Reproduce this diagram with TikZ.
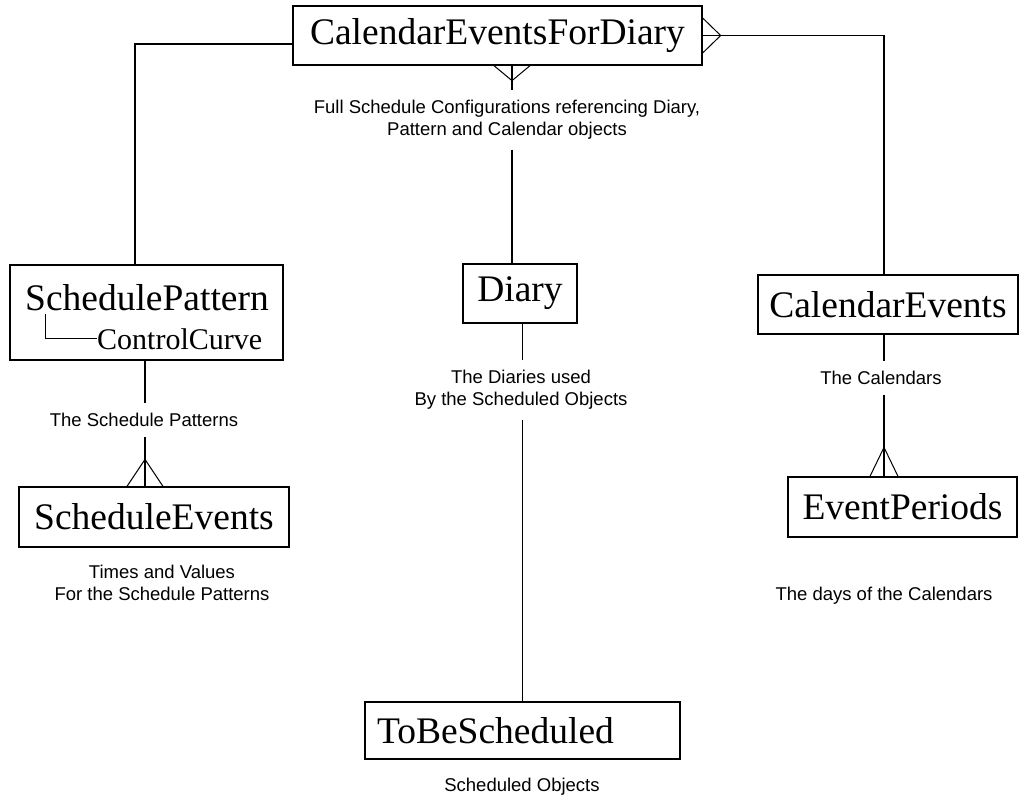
\documentclass[tikz,border=0pt]{standalone}
\usepackage{fontspec}
\setmainfont{Liberation Serif}
\newfontfamily\notesans{Liberation Sans}
\usetikzlibrary{calc}
\newcommand{\entfont}{\fontsize{37.5}{40}\selectfont}
\newcommand{\subentfont}{\fontsize{30}{32}\selectfont}
\newcommand{\notefont}{\notesans\fontsize{18.5}{22}\selectfont}

\begin{document}
\begin{tikzpicture}[x=1pt, y=-1pt,
    entity/.style={draw, line width=1.3pt, inner sep=0pt, font=\entfont},
    note/.style={font=\notefont, align=center, inner sep=0pt, outer ysep=10pt},
    link/.style={line width=1.3pt},
    crow/.style={line width=1pt},
]
\useasboundingbox (0,0) rectangle (1023,798);

% --- Entities ---
\node[entity, minimum width=409pt, minimum height=59pt] (cefd) at (497.5,35.5)
    {CalendarEventsForDiary};
\node[entity, minimum width=273pt, minimum height=95pt] (schedpat) at (146.5,312.5) {};
\node[font=\entfont, inner sep=0pt] (sptitle) at (147,298) {SchedulePattern};
\node[font=\subentfont, inner sep=0pt, anchor=base west] (ctrlcurve) at (97,349)
    {ControlCurve};
\node[entity, minimum width=270pt, minimum height=60pt] (schedev) at (154,517)
    {ScheduleEvents};
\node[entity, minimum width=114pt, minimum height=59pt] (diary) at (520,293.5)
    {Diary};
\node[entity, minimum width=315pt, minimum height=57pt, text width=291pt,
      align=left] (tobesched) at (522.5,730.5) {ToBeScheduled};
\node[entity, minimum width=260pt, minimum height=59pt] (calev) at (888,304.5)
    {CalendarEvents};
\node[entity, minimum width=229pt, minimum height=60pt] (evper) at (902.5,507)
    {EventPeriods};

% --- Notes ---
\node[note] (cfgnote) at (507,120)
    {Full Schedule Configurations referencing Diary,\\Pattern and Calendar objects};
\node[note] (spnote) at (144,420) {The Schedule Patterns};
\node[note] (senote) at (162,583) {Times and Values\\For the Schedule Patterns};
\node[note] (dnote) at (521,390) {The Diaries used\\By the Scheduled Objects};
\node[note] (tbsnote) at (522,787) {Scheduled Objects};
\node[note] (cenote) at (881,378) {The Calendars};
\node[note] (epnote) at (884,596) {The days of the Calendars};

% --- SchedulePattern holds ControlCurve ---
\draw[crow] ($(sptitle.south west)+(21,3)$) |- (ctrlcurve.west);

% --- CalendarEventsForDiary to its parts ---
\draw[link] ([yshift=-8.5pt]cefd.west) -| ([xshift=-11.5pt]schedpat.north);
\draw[link] (cefd.east) -| ([xshift=-4pt]calev.north);
\draw[crow] ([yshift=17.5pt]cefd.east) -- ++(18,17.5) -- ++(-18,17.5);

\coordinate (cfoot) at ([xshift=14.5pt]cefd.south);
\draw[crow] ($(cfoot)+(-18,0)$) -- ($(cfoot)+(0,15)$) -- ($(cfoot)+(18,0)$);
\draw[link] (cfoot) -- (cfoot |- cfgnote.north);
\draw[link] (cfoot |- cfgnote.south) -- (cfoot |- diary.north);

% --- Diary to ToBeScheduled ---
\coordinate (dfoot) at ([xshift=2.5pt]diary.south);
\draw[link] (dfoot) -- (dfoot |- dnote.north);
\draw[link] (dfoot |- dnote.south) -- (dfoot |- tobesched.north);

% --- SchedulePattern to ScheduleEvents ---
\coordinate (spfoot) at ([xshift=-1.5pt]schedpat.south);
\draw[link] (spfoot) -- (spfoot |- spnote.north);
\draw[link] (spfoot |- spnote.south) -- (spfoot |- schedev.north);
\coordinate (sevtop) at (spfoot |- schedev.north);
\draw[crow] ($(sevtop)+(-18,0)$) -- ($(sevtop)+(0,-27)$) -- ($(sevtop)+(18,0)$);

% --- CalendarEvents to EventPeriods ---
\coordinate (cefoot) at ([xshift=-4pt]calev.south);
\draw[link] (cefoot) -- (cefoot |- cenote.north);
\draw[link] (cefoot |- cenote.south) -- (cefoot |- evper.north);
\coordinate (eptop) at (cefoot |- evper.north);
\draw[crow] ($(eptop)+(-14,0)$) -- ($(eptop)+(0,-29)$) -- ($(eptop)+(14,0)$);
\end{tikzpicture}
\end{document}
